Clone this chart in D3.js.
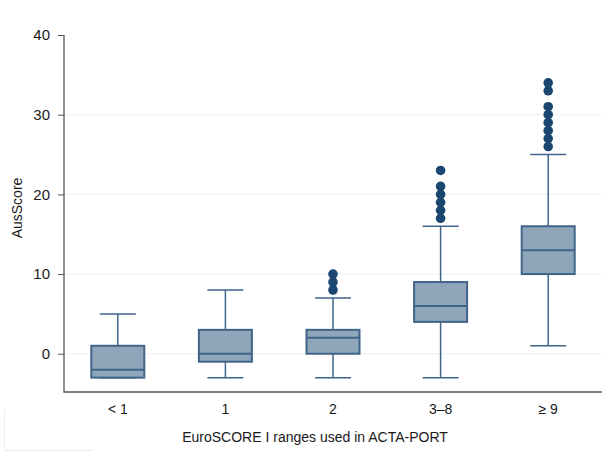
<!DOCTYPE html>
<html>
<head>
<meta charset="utf-8">
<script src="https://cdn.jsdelivr.net/npm/d3@7"></script>
<style>
  body { margin: 0; background: #fff; }
  svg { display: block; font-family: "Liberation Sans", Arial, sans-serif; }
</style>
</head>
<body>
<script>
const categories = ['< 1', '1', '2', '3–8', '≥ 9']
const whiskerLow = [-3, -3, -3, -3, 1]
const q1 = [-3, -1, 0, 4, 10]
const median = [-2, 0, 2, 6, 13]
const q3 = [1, 3, 3, 9, 16]
const whiskerHigh = [5, 8, 7, 16, 25]
const outliers = [
  [],
  [],
  [8, 9, 10],
  [17, 18, 19, 20, 21, 23],
  [26, 27, 28, 29, 30, 31, 33, 34]
]
const yTicks = [0, 10, 20, 30, 40]

const width = 609, height = 467
const plotL = 64, plotR = 602, plotT = 35, plotB = 392

const svg = d3.select('body').append('svg')
  .attr('width', width)
  .attr('height', height)

const x = d3.scaleBand().domain(categories).range([plotL, plotR]).padding(0)
const y = d3.scaleLinear().domain([-4.8, 40]).range([plotB, plotT])

// faint frame artifact bottom-left
svg.append('path')
  .attr('d', 'M4.5,410 V450.5 H93')
  .attr('fill', 'none')
  .attr('stroke', '#e6eef0')
  .attr('stroke-width', 1)

// gridlines
svg.append('g').selectAll('line')
  .data(yTicks.filter(t => t < 40))
  .join('line')
  .attr('x1', plotL).attr('x2', plotR)
  .attr('y1', d => y(d)).attr('y2', d => y(d))
  .attr('stroke', '#eaf2f3')
  .attr('stroke-width', 1)

// axes
const yAxis = svg.append('g')
  .attr('transform', `translate(${plotL},0)`)
  .call(d3.axisLeft(y).tickValues(yTicks).tickSize(6).tickPadding(8))
yAxis.select('.domain').remove()
yAxis.selectAll('line').attr('stroke', '#555')
yAxis.selectAll('text').attr('font-size', 15).attr('fill', '#1a1a1a')
  .attr('font-family', '"Liberation Sans", Arial, sans-serif')

const xAxis = svg.append('g')
  .attr('transform', `translate(0,${plotB})`)
  .call(d3.axisBottom(x).tickSize(0).tickPadding(12))
xAxis.select('.domain').remove()
xAxis.selectAll('text').attr('font-size', 14).attr('fill', '#1a1a1a')
  .attr('font-family', '"Liberation Sans", Arial, sans-serif')

svg.append('path')
  .attr('d', `M${plotL},${plotT} V${plotB} H${plotR}`)
  .attr('fill', 'none')
  .attr('stroke', '#555')
  .attr('stroke-width', 1.3)

// titles
svg.append('text')
  .attr('x', (plotL + plotR) / 2 - 18)
  .attr('y', 442)
  .attr('text-anchor', 'middle')
  .attr('font-size', 14)
  .attr('fill', '#1a1a1a')
  .text('EuroSCORE I ranges used in ACTA-PORT')

svg.append('text')
  .attr('transform', `translate(22,208) rotate(-90)`)
  .attr('text-anchor', 'middle')
  .attr('font-size', 14)
  .attr('fill', '#1a1a1a')
  .text('AusScore')

// boxes
const boxW = 53, capW = 36
const lineCol = '#416589', fillCol = '#8ea5ba', dotCol = '#1a4670'

const boxes = svg.append('g').selectAll('g')
  .data(categories.map((c, i) => ({c, i})))
  .join('g')
  .attr('transform', d => `translate(${x(d.c) + x.bandwidth() / 2},0)`)

boxes.append('line')
  .attr('y1', d => y(whiskerHigh[d.i])).attr('y2', d => y(q3[d.i]))
  .attr('stroke', lineCol).attr('stroke-width', 1.5)
boxes.append('line')
  .attr('y1', d => y(q1[d.i])).attr('y2', d => y(whiskerLow[d.i]))
  .attr('stroke', lineCol).attr('stroke-width', 1.5)
boxes.append('line')
  .attr('x1', -capW / 2).attr('x2', capW / 2)
  .attr('y1', d => y(whiskerHigh[d.i])).attr('y2', d => y(whiskerHigh[d.i]))
  .attr('stroke', lineCol).attr('stroke-width', 1.5)
boxes.append('line')
  .attr('x1', -capW / 2).attr('x2', capW / 2)
  .attr('y1', d => y(whiskerLow[d.i])).attr('y2', d => y(whiskerLow[d.i]))
  .attr('stroke', lineCol).attr('stroke-width', 1.5)
boxes.append('rect')
  .attr('x', -boxW / 2).attr('width', boxW)
  .attr('y', d => y(q3[d.i]))
  .attr('height', d => y(q1[d.i]) - y(q3[d.i]))
  .attr('fill', fillCol)
  .attr('stroke', lineCol).attr('stroke-width', 2)
boxes.append('line')
  .attr('x1', -boxW / 2).attr('x2', boxW / 2)
  .attr('y1', d => y(median[d.i])).attr('y2', d => y(median[d.i]))
  .attr('stroke', lineCol).attr('stroke-width', 2)

boxes.selectAll('circle')
  .data(d => outliers[d.i])
  .join('circle')
  .attr('cx', 0)
  .attr('cy', d => y(d))
  .attr('r', 4.8)
  .attr('fill', dotCol)
</script>
</body>
</html>
